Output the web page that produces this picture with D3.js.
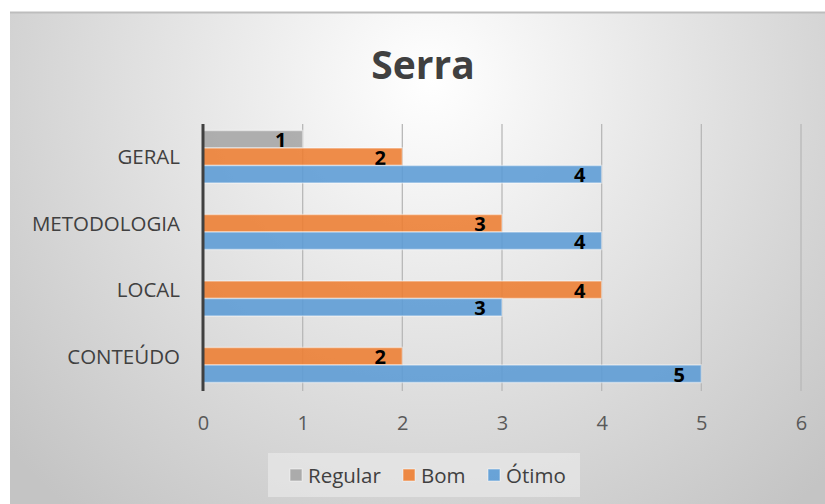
<!DOCTYPE html>
<html><head><meta charset="utf-8">
<script src="https://cdn.jsdelivr.net/npm/d3@7"></script>
<style>body{margin:0;background:#fff}svg{display:block}</style>
</head><body>
<script>
const categories = ["GERAL", "METODOLOGIA", "LOCAL", "CONTEÚDO"];
const seriesNames = ["Regular", "Bom", "Ótimo"];
const regular = [1, null, null, null];
const bom = [2, 3, 4, 2];
const otimo = [4, 4, 3, 5];
const xTicks = [0, 1, 2, 3, 4, 5, 6];
const colors = ["#A5A5A5", "#ED7D31", "#5B9BD5"];
const title = "Serra";

const W = 825, H = 504;
const svg = d3.select("body").append("svg").attr("width", W).attr("height", H);
const defs = svg.append("defs");
const rg = defs.append("radialGradient").attr("id","bg").attr("gradientUnits","userSpaceOnUse")
  .attr("cx", 430).attr("cy", 80).attr("r", 560);
rg.append("stop").attr("offset","0%").attr("stop-color","#ffffff");
rg.append("stop").attr("offset","100%").attr("stop-color","#c4c4c4");

svg.append("rect").attr("x",10).attr("y",12).attr("width",W-10).attr("height",H-12).attr("fill","url(#bg)");
svg.append("line").attr("x1",10).attr("x2",W).attr("y1",12.5).attr("y2",12.5).attr("stroke","#bdbdbd").attr("stroke-width",2);

svg.append("text").attr("x",423).attr("y",79).attr("text-anchor","middle")
  .attr("font-family","Open Sans").attr("font-weight","bold").attr("font-size",39)
  .attr("fill","#404040").text(title);

const x = d3.scaleLinear().domain([0,6]).range([203, 801]);
const y0 = d3.scaleBand().domain(categories).range([124, 390]);
const sub = d3.scaleBand().domain(seriesNames).range([0, 52.5]);

// gridlines
svg.append("g").selectAll("line").data(xTicks.filter(d=>d>0)).join("line")
  .attr("x1",d=>x(d)).attr("x2",d=>x(d)).attr("y1",124).attr("y2",391)
  .attr("stroke","#b8b8b8").attr("stroke-width",1.3);

// x axis labels
const xAxis = d3.axisBottom(x).tickValues(xTicks).tickSize(0).tickPadding(0).tickFormat(d3.format("d"));
const gx = svg.append("g").attr("transform","translate(0,430)").call(xAxis);
gx.select(".domain").remove();
gx.selectAll("text").attr("font-family","Open Sans").attr("font-size",20).attr("fill","#595959").attr("dy","0");

// y axis labels
const yAxis = d3.axisLeft(y0).tickSize(0).tickPadding(0);
const gy = svg.append("g").attr("transform","translate(180,0)").call(yAxis);
gy.select(".domain").remove();
gy.selectAll("text").attr("font-family","Open Sans").attr("font-size",20.5).attr("fill","#404040").attr("dy","0.35em");

const data = [regular, bom, otimo];
const groups = svg.append("g");
data.forEach((vals, si) => {
  const rows = categories.map((c,i)=>({c, v: vals[i]})).filter(d=>d.v!=null);
  groups.append("g").selectAll("rect").data(rows).join("rect")
    .attr("x", x(0)).attr("y", d => y0(d.c) + 6.5 + sub(seriesNames[si]))
    .attr("width", d => x(d.v) - x(0)).attr("height", sub.bandwidth())
    .attr("fill", colors[si]).attr("fill-opacity",0.88)
    .attr("stroke", "#ffffff").attr("stroke-opacity",0.45).attr("stroke-width",1.5);
  groups.append("g").selectAll("text").data(rows).join("text")
    .attr("x", d => x(d.v) - 22).attr("y", d => y0(d.c) + 6.5 + sub(seriesNames[si]) + sub.bandwidth()/2 + 8)
    .attr("text-anchor","middle").attr("font-family","Open Sans").attr("font-weight","bold")
    .attr("font-size",20).attr("fill","#000").text(d=>d.v);
});

// y axis line
svg.append("line").attr("x1",203).attr("x2",203).attr("y1",124).attr("y2",391)
  .attr("stroke","#404040").attr("stroke-width",3);

// legend
const lg = svg.append("g");
lg.append("rect").attr("x",268).attr("y",453).attr("width",312).attr("height",44).attr("fill","#e8e8e8").attr("fill-opacity",0.7);
const lx = [290, 403, 488];
seriesNames.forEach((s,i)=>{
  lg.append("rect").attr("x",lx[i]).attr("y",469).attr("width",12).attr("height",12)
    .attr("fill",colors[i]).attr("fill-opacity",0.9).attr("stroke","#fff").attr("stroke-opacity",0.5);
  lg.append("text").attr("x",lx[i]+18).attr("y",482.5).attr("font-family","Open Sans").attr("font-size",20.5)
    .attr("fill","#404040").text(s);
});
</script>
</body></html>
